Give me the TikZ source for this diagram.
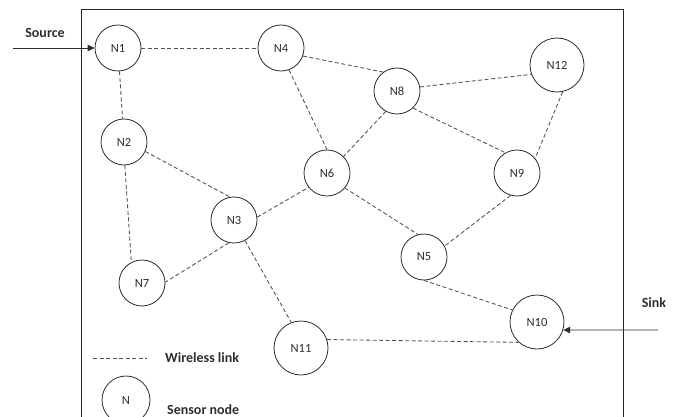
\documentclass[tikz,border=0pt]{standalone}
\usepackage{fontspec}
\setmainfont{Carlito}
\usetikzlibrary{arrows.meta}
\definecolor{ink}{HTML}{2E2E2E}
\definecolor{edge}{HTML}{505050}
\begin{document}
\begin{tikzpicture}[x=1pt,y=-1pt,
  sensor/.style={circle,draw=ink,line width=0.8pt,inner sep=0pt,minimum size=46pt,
    font=\fontsize{12.5}{14}\selectfont,text=ink},
  bigsensor/.style={sensor,minimum size=54pt},
  link/.style={draw=edge,line width=0.85pt,dash pattern=on 4pt off 2.5pt},
  feed/.style={draw=ink,line width=0.9pt,-{Triangle[length=7pt,width=6.5pt]}},
  caption/.style={font=\bfseries\fontsize{14}{16}\selectfont,text=ink,inner sep=0pt},
]
\useasboundingbox (0,0) rectangle (682,417);
\fill[white] (0,0) rectangle (682,417);

% field boundary
\draw[line width=1pt,black!85] (81.5,422) -- (81.5,9.5) -- (623,9.5) -- (623,422);

% sensor nodes
\node[sensor]    (N1)  at (118,48)  {N1};
\node[sensor]    (N4)  at (281,48)  {N4};
\node[sensor]    (N8)  at (397,91)  {N8};
\node[bigsensor] (N12) at (557,65)  {N12};
\node[sensor]    (N2)  at (124,142) {N2};
\node[sensor]    (N6)  at (327,173) {N6};
\node[sensor]    (N9)  at (517,173) {N9};
\node[sensor]    (N3)  at (234,220) {N3};
\node[sensor]    (N5)  at (424,257) {N5};
\node[sensor]    (N7)  at (142,283) {N7};
\node[bigsensor] (N10) at (537,322) {N10};
\node[bigsensor] (N11) at (301,348) {N11};

% wireless links
\draw[link] (N1) -- (N4);
\draw[link] (N1) -- (N2);
\draw[link] (N4.-20) -- (N8.126);
\draw[link] (N4.-70) -- (N6.90);
\draw[link] (N8.10) -- (N12.200);
\draw[link] (N8.-119) -- (N6.45);
\draw[link] (N8.-47) -- (N9.120);
\draw[link] (N12.-78) -- (N9.39);
\draw[link] (N9.-106) -- (N5.28);
\draw[link] (N2.-24) -- (N3.100);
\draw[link] (N2.-88) -- (N7.117);
\draw[link] (N3.7) -- (N6.218);
\draw[link] (N3.257) -- (N7.2);
\draw[link] (N3.-62) -- (N11.111);
\draw[link] (N6.-40) -- (N5.105);
\draw[link] (N5.-90) -- (N10.154);
\draw[link] (N11.18) -- (N10.-132);

% source and sink
\node[caption] (src) at (45,33) {Source};
\coordinate (srcstart) at (13,48);
\draw[feed] (srcstart) -- (N1);
\node[caption] (sink) at (654,303) {Sink};
\coordinate (sinkstart) at (658,330);
\draw[feed] (sinkstart) -- (N10.-17);

% legend
\coordinate (legA) at (93,358);
\coordinate (legB) at (147,358);
\draw[link] (legA) -- (legB);
\node[caption,anchor=west] (leglink) at (165,358) {Wireless link};
\node[sensor,minimum size=48pt] (legnode) at (126,400) {N};
\node[caption,anchor=west] (legsensor) at (167,410) {Sensor node};
\end{tikzpicture}
\end{document}
